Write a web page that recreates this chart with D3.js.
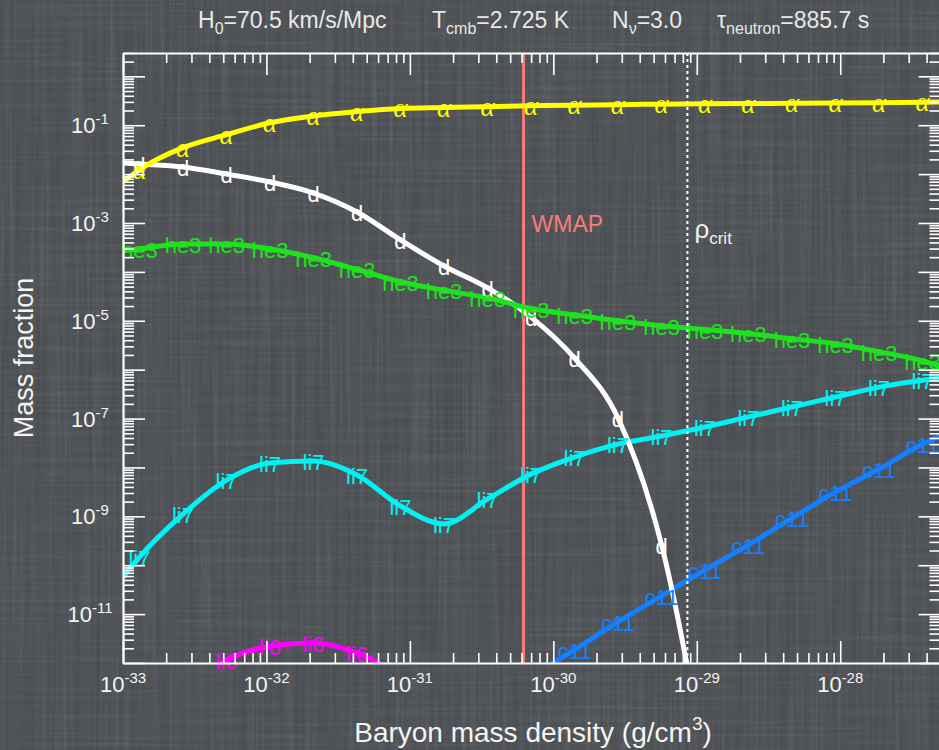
<!DOCTYPE html>
<html>
<head>
<meta charset="utf-8">
<script src="https://cdn.jsdelivr.net/npm/d3@7"></script>
<style>
  html, body { margin: 0; padding: 0; background: #4f5256; }
  svg { display: block; }
  text { font-family: "Liberation Sans", "Helvetica Neue", Helvetica, Arial, sans-serif; }
</style>
</head>
<body>
<svg id="chart" width="939" height="750"></svg>
<script>
// Baryon mass densities (g/cm^3) where each abundance is sampled; the inner ones carry a label
const densities = [1e-33, 1.303e-33, 2.62e-33, 5.27e-33, 1.059e-32, 2.13e-32, 4.28e-32, 8.6e-32,
  1.729e-31, 3.48e-31, 6.99e-31, 1.405e-30, 2.82e-30, 5.68e-30, 1.141e-29, 2.29e-29, 4.61e-29,
  9.27e-29, 1.864e-28, 3.75e-28, 5e-28];

// Mass fractions for each nuclide (null = not computed / off the chart)
const he4Values = [7.0e-3, 1.23e-2, 3.47e-2, 6.4e-2, 0.112, 0.155, 0.19, 0.22, 0.23, 0.24, 0.25,
  0.257, 0.263, 0.27, 0.274, 0.277, 0.28, 0.284, 0.287, 0.295, 0.30];
const dValues = [1.69e-2, 1.61e-2, 1.40e-2, 1.0e-2, 6.9e-3, 4.1e-3, 1.68e-3, 4.5e-4, 1.32e-4,
  4.7e-5, 1.19e-5, 1.73e-6, 1.03e-7, 2.6e-10, 8.9e-15, null, null, null, null, null, null];
const he3Values = [2.7e-4, 2.95e-4, 3.7e-4, 3.7e-4, 2.95e-4, 1.95e-4, 1.12e-4, 6.3e-5, 4.2e-5,
  2.95e-5, 1.78e-5, 1.32e-5, 1.0e-5, 7.9e-6, 6.6e-6, 5.5e-6, 4.3e-6, 3.4e-6, 2.33e-6, 1.51e-6, 1.15e-6];
const li7Values = [5.7e-11, 1.47e-10, 1.11e-9, 5.5e-9, 1.23e-8, 1.35e-8, 7.0e-9, 1.63e-9, 7.0e-10,
  2.26e-9, 7.3e-9, 1.63e-8, 3.0e-8, 4.4e-8, 6.7e-8, 1.08e-7, 1.72e-7, 2.76e-7, 4.4e-7, 6.1e-7, 6.7e-7];
const li6Values = [null, null, 2.8e-13, 1.15e-12, 2.2e-12, 2.6e-12, 1.6e-12, 5.8e-13, null, null,
  null, null, null, null, null, null, null, null, null, null, null];
const c11Values = [null, null, null, null, null, null, null, null, null, null, 5.4e-13, 1.85e-12,
  6.9e-12, 2.35e-11, 8.0e-11, 2.6e-10, 9.2e-10, 3.15e-9, 9.3e-9, 3.0e-8, 4.4e-8];

// Reference densities
const wmapDensity = 6.2e-31;
const critDensity = 8.6e-30;

// Axis ticks
const xMajorTicks = [1e-33, 1e-32, 1e-31, 1e-30, 1e-29, 1e-28];
const xTickExponents = ["-33", "-32", "-31", "-30", "-29", "-28"];
const yMajorTicks = [1e-12, 1e-11, 1e-10, 1e-9, 1e-8, 1e-7, 1e-6, 1e-5, 1e-4, 1e-3, 1e-2, 1e-1, 1];
const yLabelTicks = [1e-11, 1e-9, 1e-7, 1e-5, 1e-3, 1e-1];
const yTickExponents = ["-11", "-9", "-7", "-5", "-3", "-1"];

const series = [
  { name: "li6", values: li6Values, color: "#ff00ff", serif: false },
  { name: "c11", values: c11Values, color: "#1580ff", serif: false },
  { name: "li7", values: li7Values, color: "#00f2f2", serif: false },
  { name: "d",   values: dValues,   color: "#ffffff", serif: false },
  { name: "he3", values: he3Values, color: "#1de21d", serif: false },
  { name: "α",   values: he4Values, color: "#ffff00", serif: true }
];

const svg = d3.select("#chart");
const W = 939, H = 750;
const pLeft = 123, pRight = 940.5, pTop = 53, pBottom = 663;

const x = d3.scaleLog().domain([1e-33, 5e-28]).range([pLeft, pRight]);
const y = d3.scaleLog().domain([1e-12, 3]).range([pBottom, pTop]);

// ---------- background with a faint woven texture ----------
const defs = svg.append("defs");
function streakFilter(id, fx, fy, seed, matrix) {
  const f = defs.append("filter").attr("id", id)
    .attr("x", 0).attr("y", 0).attr("width", "100%").attr("height", "100%");
  f.append("feTurbulence").attr("type", "fractalNoise")
    .attr("baseFrequency", fx + " " + fy).attr("numOctaves", 2).attr("seed", seed);
  f.append("feColorMatrix").attr("type", "matrix").attr("values", matrix);
}
streakFilter("streakV", 0.3, 0.006, 3, "0 0 0 0 1 0 0 0 0 1 0 0 0 0 1 0.5 0 0 0 -0.22");
streakFilter("streakH", 0.006, 0.3, 7, "0 0 0 0 1 0 0 0 0 1 0 0 0 0 1 0.5 0 0 0 -0.22");
streakFilter("shadeV", 0.2, 0.004, 11, "0 0 0 0 0 0 0 0 0 0 0 0 0 0 0 0.5 0 0 0 -0.2");

svg.append("rect").attr("width", W).attr("height", H).attr("fill", "#4f5256");
svg.append("rect").attr("width", W).attr("height", H).attr("filter", "url(#streakV)").attr("opacity", 0.3);
svg.append("rect").attr("width", W).attr("height", H).attr("filter", "url(#streakH)").attr("opacity", 0.25);
svg.append("rect").attr("width", W).attr("height", H).attr("filter", "url(#shadeV)").attr("opacity", 0.3);

defs.append("clipPath").attr("id", "plotClip")
  .append("rect").attr("x", pLeft).attr("y", pTop)
  .attr("width", pRight - pLeft).attr("height", pBottom - pTop);

function label(parent, px, py, anchor, size, color) {
  return parent.append("text")
    .attr("x", px).attr("y", py)
    .attr("text-anchor", anchor)
    .attr("font-size", size)
    .attr("fill", color);
}

// ---------- WMAP line ----------
svg.append("line")
  .attr("x1", x(wmapDensity)).attr("x2", x(wmapDensity))
  .attr("y1", pTop).attr("y2", pBottom)
  .attr("stroke", "#f77b7b").attr("stroke-width", 3);
label(svg, x(wmapDensity) + 8, 232, "start", 23, "#f77b7b").text("WMAP");

// ---------- abundance curves ----------
const line = d3.line()
  .defined(d => d.v != null)
  .x(d => x(d.rho))
  .y(d => y(d.v))
  .curve(d3.curveMonotoneX);

const curves = svg.append("g").attr("clip-path", "url(#plotClip)");
const labels = svg.append("g");

series.forEach(s => {
  const pts = densities.map((rho, i) => ({ rho, v: s.values[i], i }));
  curves.append("path")
    .datum(pts)
    .attr("d", line)
    .attr("fill", "none")
    .attr("stroke", s.color)
    .attr("stroke-width", 5)
    .attr("stroke-linejoin", "round");
  const g = labels.append("g");
  pts.filter(p => p.v != null && p.i > 0 && p.i < densities.length - 1 && p.v >= 1e-12 && p.v <= 3)
    .forEach(p => {
      const t = label(g, x(p.rho), y(p.v) + 9, "middle", s.serif ? 27 : 22, s.color).text(s.name);
      if (s.serif) t.style("font-family", "'Liberation Serif', 'DejaVu Serif', serif").style("font-style", "italic");
    });
});

// ---------- critical density ----------
svg.append("line")
  .attr("x1", x(critDensity)).attr("x2", x(critDensity))
  .attr("y1", pTop).attr("y2", pBottom)
  .attr("stroke", "#ffffff").attr("stroke-width", 2)
  .attr("stroke-dasharray", "3,3");
const rc = label(svg, x(critDensity) + 7, 238, "start", 26, "#f2f2f2");
rc.append("tspan").text("ρ");
rc.append("tspan").attr("font-size", 17).attr("dy", 6).text("crit");

// ---------- axes ----------
const xMinor = [], yMinor = [];
for (let e = -33; e <= -28; e++) for (let k = 2; k <= 9; k++) {
  const v = k * Math.pow(10, e); if (v <= 5e-28) xMinor.push(v);
}
for (let e = -12; e <= 0; e++) for (let k = 2; k <= 9; k++) {
  const v = k * Math.pow(10, e); if (v <= 3) yMinor.push(v);
}

const axisG = svg.append("g").attr("class", "axes");
function drawAxis(axisFn, scale, transform, major, minor, len) {
  const gMin = axisG.append("g").attr("transform", transform)
    .call(axisFn(scale).tickValues(minor).tickSizeInner(len[1]).tickSizeOuter(0).tickFormat(""));
  const gMaj = axisG.append("g").attr("transform", transform)
    .call(axisFn(scale).tickValues(major).tickSizeInner(len[0]).tickSizeOuter(0).tickFormat(""));
  [gMin, gMaj].forEach(g => {
    g.select(".domain").attr("stroke", "#ffffff").attr("stroke-width", 2.2);
    g.selectAll(".tick line").attr("stroke", "#ffffff").attr("stroke-width", 1.6);
  });
  gMin.select(".domain").remove();
  return gMaj;
}
drawAxis(d3.axisBottom, x, `translate(0,${pBottom})`, xMajorTicks, xMinor, [-22, -10]);
drawAxis(d3.axisTop, x, `translate(0,${pTop})`, xMajorTicks, xMinor, [-22, -10]);
drawAxis(d3.axisLeft, y, `translate(${pLeft},0)`, yMajorTicks, yMinor, [-22, -11]);
drawAxis(d3.axisRight, y, `translate(${pRight},0)`, yMajorTicks, yMinor, [-22, -11]);

// tick labels with superscript exponents
xMajorTicks.forEach((v, i) => {
  const t = label(axisG, x(v), 692, "middle", 22, "#f4f4f4");
  t.append("tspan").text("10");
  t.append("tspan").attr("font-size", 15).attr("dy", -9).text(xTickExponents[i]);
});
yLabelTicks.forEach((v, i) => {
  const t = label(axisG, 90, y(v) + 8, "middle", 22, "#f4f4f4");
  t.append("tspan").text("10");
  t.append("tspan").attr("font-size", 15).attr("dy", -9).text(yTickExponents[i]);
});

// ---------- axis titles ----------
const xt = label(svg, 533, 742, "middle", 28, "#f4f4f4");
xt.append("tspan").text("Baryon mass density (g/cm");
xt.append("tspan").attr("font-size", 19).attr("dy", -12).text("3");
xt.append("tspan").attr("dy", 12).text(")");

svg.append("text")
  .attr("transform", "translate(33,358) rotate(-90)")
  .attr("text-anchor", "middle").attr("font-size", 27).attr("fill", "#f4f4f4")
  .text("Mass fraction");

// ---------- header with model parameters ----------
const hdr = [
  { x: 198, main: "H", sub: "0", rest: "=70.5 km/s/Mpc" },
  { x: 432, main: "T", sub: "cmb", rest: "=2.725 K" },
  { x: 612, main: "N", sub: "ν", rest: "=3.0" },
  { x: 717, main: "τ", sub: "neutron", rest: "=885.7 s" }
];
hdr.forEach(h => {
  const t = label(svg, h.x, 28, "start", 23, "#e8e8e8");
  t.append("tspan").text(h.main);
  t.append("tspan").attr("font-size", 16).attr("dy", 6).text(h.sub);
  t.append("tspan").attr("dy", -6).text(h.rest);
});
</script>
</body>
</html>
